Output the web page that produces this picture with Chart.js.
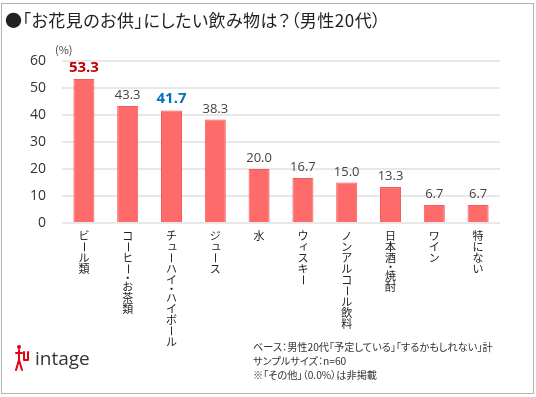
<!DOCTYPE html>
<html lang="ja">
<head>
<meta charset="utf-8">
<script src="https://cdn.jsdelivr.net/npm/chart.js@4"></script>
<style>
  html, body { margin: 0; padding: 0; background: #fff; }
  body { width: 536px; height: 397px; position: relative; overflow: hidden;
         font-family: "Noto Sans CJK JP", "Noto Sans", sans-serif; color: #222; }
  .frame { position: absolute; left: 1px; top: 3px; width: 531px; height: 389px; border: 1px solid #b4b4b4; }
  .title { position: absolute; left: 5px; top: 7px; font-size: 17px; letter-spacing: 0.5px; font-feature-settings: "palt"; white-space: nowrap; }
  .unit { position: absolute; left: 55px; top: 41px; font-size: 11px; color: #444; }
  .note { position: absolute; left: 253px; top: 340px; font-size: 10.2px; line-height: 14px; color: #333;
          font-feature-settings: "palt"; white-space: nowrap; }
  .logo { position: absolute; left: 15px; top: 344px; display: flex; align-items: center; }
  .logo span { font-family: "Open Sans", sans-serif; font-size: 19px; color: #333; margin-left: 6px; }
  #wrap { position: absolute; left: 0; top: 0; width: 536px; height: 397px; }
</style>
</head>
<body>
<div class="frame"></div>
<div id="wrap"><canvas id="drinkChart"></canvas></div>
<div class="title">●「お花見のお供」にしたい飲み物は？（男性20代）</div>
<div class="unit">(%)</div>
<div class="note">ベース：男性20代「予定している」「するかもしれない」計<br>サンプルサイズ：n=60<br>※「その他」（0.0%）は非掲載</div>
<div class="logo">
  <svg width="14" height="28" viewBox="0 0 14 28">
    <g stroke="#e60012" stroke-width="2" fill="none" stroke-linecap="round">
      <circle cx="4" cy="3" r="2" fill="#e60012" stroke="none"/>
      <path d="M4 6 V16 M1 9 H7 M4 16 L1 26 M4 16 L7 26"/>
      <path d="M9 8 V16 M13 8 V16 M9 16 H13"/>
    </g>
  </svg>
  <span>intage</span>
</div>
<script>
// data
const categories = ['ビール類', 'コーヒー・お茶類', 'チューハイ・ハイボール', 'ジュース', '水',
  'ウィスキー', 'ノンアルコール飲料', '日本酒・焼酎', 'ワイン', '特にない'];
const values = [53.3, 43.3, 41.7, 38.3, 20.0, 16.7, 15.0, 13.3, 6.7, 6.7];
const yTicks = [0, 10, 20, 30, 40, 50, 60];
// highlighted value labels (index -> colour)
const highlight = { 0: '#c00000', 2: '#0070c0' };

const smallKana = 'ィュャョッァェォ';

// value labels above bars
const valueLabels = {
  id: 'valueLabels',
  afterDatasetsDraw(chart) {
    const ctx = chart.ctx;
    const meta = chart.getDatasetMeta(0);
    ctx.save();
    ctx.textAlign = 'center';
    ctx.textBaseline = 'alphabetic';
    meta.data.forEach((bar, i) => {
      const hl = highlight[i];
      ctx.fillStyle = hl || '#444';
      ctx.font = hl ? 'bold 15px "Open Sans", sans-serif' : '13px "Open Sans", sans-serif';
      ctx.fillText(values[i].toFixed(1), bar.x, bar.y - 7);
    });
    ctx.restore();
  }
};

// vertical category labels (one character per line)
const verticalLabels = {
  id: 'verticalLabels',
  afterDraw(chart) {
    const ctx = chart.ctx;
    const xs = chart.scales.x;
    ctx.save();
    ctx.fillStyle = '#222';
    ctx.font = '11px "Noto Sans CJK JP", sans-serif';
    ctx.textAlign = 'center';
    ctx.textBaseline = 'middle';
    categories.forEach((cat, i) => {
      const x = xs.getPixelForValue(i);
      let y = 236;
      for (const ch of cat) {
        if (ch === '・') {
          y -= 2;
          ctx.fillText(ch, x, y);
          y += 9;
          continue;
        }
        if (ch === 'ー') {
          ctx.save();
          ctx.translate(x, y);
          ctx.rotate(Math.PI / 2);
          ctx.fillText(ch, 0, 0);
          ctx.restore();
        } else if (smallKana.includes(ch)) {
          ctx.fillText(ch, x + 1, y - 1);
        } else {
          ctx.fillText(ch, x, y);
        }
        y += 11;
      }
    });
    ctx.restore();
  }
};

const canvas = document.getElementById('drinkChart');
new Chart(canvas, {
  type: 'bar',
  data: {
    labels: categories,
    datasets: [{
      data: values,
      backgroundColor: '#ff6b6b',
      borderColor: '#f25c5c',
      borderWidth: 1,
      barPercentage: 0.96,
      categoryPercentage: 0.5
    }]
  },
  options: {
    responsive: true,
    maintainAspectRatio: false,
    animation: false,
    events: [],
    layout: { padding: { top: 61, right: 36, bottom: 0, left: 0 } },
    plugins: { legend: { display: false }, tooltip: { enabled: false } },
    scales: {
      x: {
        afterFit(scale) { scale.height = 174; },
        grid: { display: false },
        border: { display: false },
        ticks: { callback: () => '' }
      },
      y: {
        min: 0,
        max: 60,
        afterFit(scale) { scale.width = 62; },
        afterBuildTicks(scale) { scale.ticks = yTicks.map(v => ({ value: v })); },
        grid: { color: '#e8e8e8', lineWidth: 2, drawTicks: false },
        border: { display: false },
        ticks: {
          padding: 16,
          color: '#333',
          font: { size: 14, family: '"Open Sans", sans-serif' }
        }
      }
    }
  },
  plugins: [valueLabels, verticalLabels]
});
</script>
</body>
</html>
